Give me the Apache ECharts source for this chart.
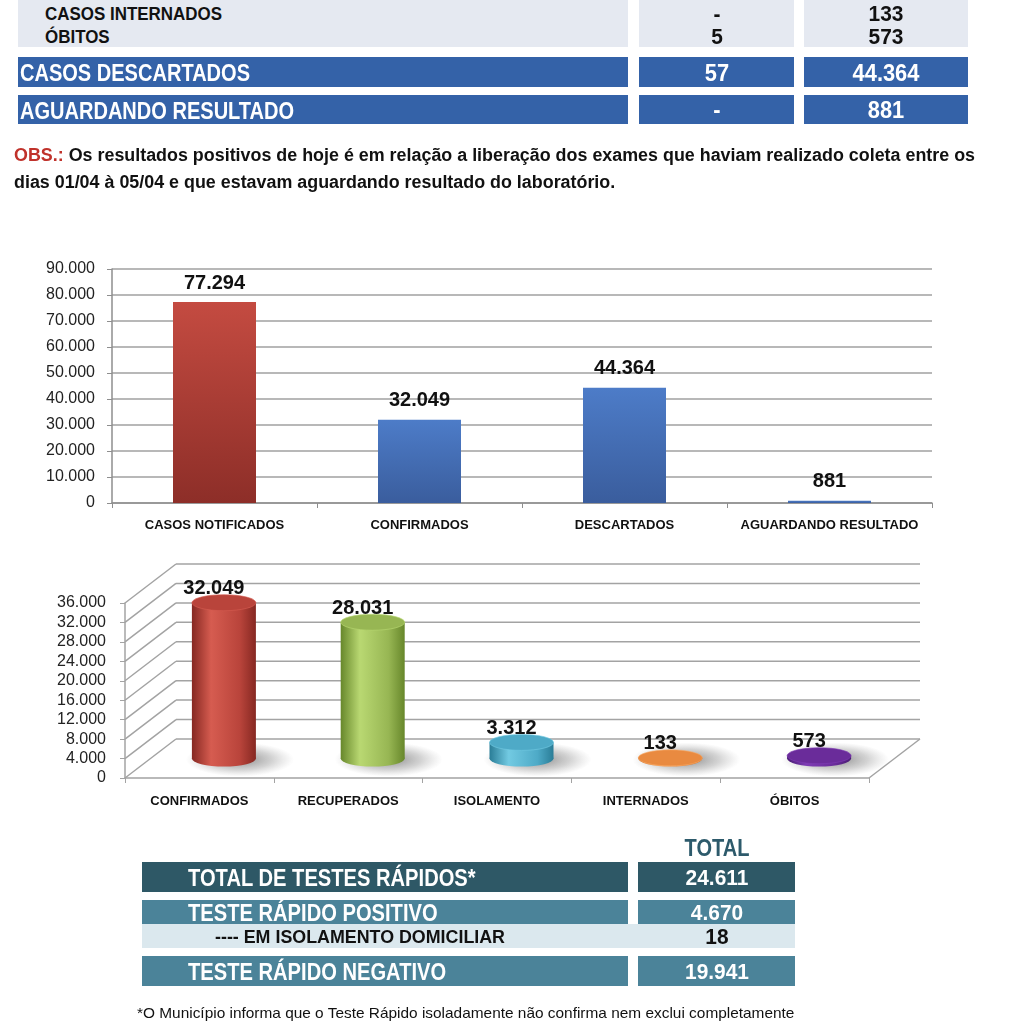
<!DOCTYPE html>
<html>
<head>
<meta charset="utf-8">
<script src="https://cdn.jsdelivr.net/npm/echarts@6/dist/echarts.min.js"></script>
<style>
  html, body { margin: 0; padding: 0; background: #fff; }
  #wrap { position: relative; width: 1024px; height: 1024px; overflow: hidden; }
  #chart { position: absolute; left: 0; top: 0; width: 1024px; height: 1024px; }
  #overlay { position: absolute; left: 0; top: 0; width: 1024px; height: 1024px; pointer-events: none; }
  .box { position: absolute; }
  .t { position: absolute; white-space: nowrap; line-height: 1; font-family: 'Liberation Sans', Arial, sans-serif; font-weight: bold; }
</style>
</head>
<body>
<div id="wrap">
  <div id="chart"></div>
  <div id="overlay"></div>
</div>
<script>
// ---------------- DATA ----------------
const topRowLabels = ['CASOS INTERNADOS', 'ÓBITOS'];
const topRowToday = ['-', '5'];
const topRowTotal = ['133', '573'];
const blueRowLabels = ['CASOS DESCARTADOS', 'AGUARDANDO RESULTADO'];
const blueRowToday = ['57', '-'];
const blueRowTotal = ['44.364', '881'];

const obsLabel = 'OBS.:';
const obsLines = [
  ' Os resultados positivos de hoje é em relação a liberação dos exames que haviam realizado coleta entre os',
  'dias 01/04 à 05/04 e que estavam aguardando resultado do laboratório.'
];

const chart1Categories = ['CASOS NOTIFICADOS', 'CONFIRMADOS', 'DESCARTADOS', 'AGUARDANDO RESULTADO'];
const chart1Values = [77294, 32049, 44364, 881];
const chart1AxisMin = 0, chart1AxisMax = 90000, chart1AxisStep = 10000;

const chart2Categories = ['CONFIRMADOS', 'RECUPERADOS', 'ISOLAMENTO', 'INTERNADOS', 'ÓBITOS'];
const chart2Values = [32049, 28031, 3312, 133, 573];
const chart2Ticks = [0, 4000, 8000, 12000, 16000, 20000, 24000, 28000, 32000, 36000];
const chart2AxisMin = 0, chart2AxisMax = 36000, chart2AxisStep = 4000;

const rapidHeader = 'TOTAL';
const rapidLabels = ['TOTAL DE TESTES RÁPIDOS*', 'TESTE RÁPIDO POSITIVO', '---- EM ISOLAMENTO DOMICILIAR', 'TESTE RÁPIDO NEGATIVO'];
const rapidValues = ['24.611', '4.670', '18', '19.941'];
const footnote = '*O Município informa  que o Teste Rápido isoladamente não confirma nem exclui completamente';

// ---------------- HTML TABLES ----------------
const ov = document.getElementById('overlay');
function box(x, y, w, h, color) {
  const d = document.createElement('div');
  d.className = 'box';
  Object.assign(d.style, { left: x + 'px', top: y + 'px', width: w + 'px', height: h + 'px', background: color });
  ov.appendChild(d);
}
function text(str, x, cy, size, color, sx) {
  const d = document.createElement('div');
  d.className = 't';
  d.textContent = str;
  d.style.fontSize = size + 'px';
  d.style.color = color;
  d.style.top = (cy - size / 2) + 'px';
  d.style.height = size + 'px';
  d.style.left = x + 'px';
  d.style.transformOrigin = '0 50%';
  if (sx) d.style.transform = 'scaleX(' + sx + ')';
  ov.appendChild(d);
  return d;
}
function ctext(str, cx, cy, size, color, sx) {
  const d = document.createElement('div');
  d.className = 't';
  d.textContent = str;
  d.style.fontSize = size + 'px';
  d.style.color = color;
  d.style.top = (cy - size / 2) + 'px';
  d.style.height = size + 'px';
  d.style.left = (cx - 200) + 'px';
  d.style.width = '400px';
  d.style.textAlign = 'center';
  if (sx) d.style.transform = 'scaleX(' + sx + ')';
  ov.appendChild(d);
  return d;
}
function measure(str, size, weight) {
  const c = document.createElement('canvas').getContext('2d');
  c.font = (weight || 'bold') + ' ' + size + "px 'Liberation Sans', Arial, sans-serif";
  return c.measureText(str).width;
}

const COL1 = [18, 628], COL2 = [639, 794], COL3 = [804, 968];
const lightBg = '#e5e9f1', blueBg = '#3462a8';
box(COL1[0], 0, COL1[1] - COL1[0], 47, lightBg);
box(COL2[0], 0, COL2[1] - COL2[0], 47, lightBg);
box(COL3[0], 0, COL3[1] - COL3[0], 47, lightBg);
const topY = [13, 36];
const sxTop = 177 / measure(topRowLabels[0], 19);
topRowLabels.forEach((l, i) => {
  text(l, 45, topY[i], 19, '#111', sxTop);
  ctext(topRowToday[i], (COL2[0] + COL2[1]) / 2, topY[i] + 1, 22, '#111', 0.95);
  ctext(topRowTotal[i], (COL3[0] + COL3[1]) / 2, topY[i] + 1, 22, '#111', 0.95);
});
const blueY = [[57, 87], [95, 124]];
const sxBlue = 230 / measure(blueRowLabels[0], 24);
blueRowLabels.forEach((l, i) => {
  const [y0, y1] = blueY[i];
  box(COL1[0], y0, COL1[1] - COL1[0], y1 - y0, blueBg);
  box(COL2[0], y0, COL2[1] - COL2[0], y1 - y0, blueBg);
  box(COL3[0], y0, COL3[1] - COL3[0], y1 - y0, blueBg);
  const cy = (y0 + y1) / 2 + 1;
  text(l, 20, cy, 24, '#fff', sxBlue);
  ctext(blueRowToday[i], (COL2[0] + COL2[1]) / 2, cy, 23, '#fff', 0.95);
  ctext(blueRowTotal[i], (COL3[0] + COL3[1]) / 2, cy, 23, '#fff', 0.95);
});
// OBS
(function () {
  const size = 18;
  const sx = 961 / measure(obsLabel + obsLines[0], size);
  const d = document.createElement('div');
  d.className = 't';
  d.style.left = '14px'; d.style.top = '142px'; d.style.fontSize = size + 'px';
  d.style.lineHeight = '27px'; d.style.color = '#111';
  d.style.transformOrigin = '0 0';
  d.style.transform = 'scaleX(' + sx + ')';
  d.innerHTML = '<span style="color:#c0322b">' + obsLabel + '</span>' + obsLines[0] + '<br>' + obsLines[1];
  ov.appendChild(d);
})();
// Rapid tests table
const RC1 = [142, 628], RC2 = [638, 795];
ctext(rapidHeader, (RC2[0] + RC2[1]) / 2, 848, 23, '#2d5a6b', 65 / measure(rapidHeader, 23));
const rapidRows = [
  { y: [862, 892], bg: '#2e5866', fg: '#fff', split: true, size: 24, x: 188 },
  { y: [900, 924], bg: '#4b8399', fg: '#fff', split: true, size: 24, x: 188 },
  { y: [924, 948], bg: '#dbe8ee', fg: '#111', split: false, size: 18, x: 215 },
  { y: [956, 986], bg: '#4b8399', fg: '#fff', split: true, size: 24, x: 188 }
];
const sxRapid = 288 / measure(rapidLabels[0], 24);
const sxIso = 290 / measure(rapidLabels[2], 18);
rapidRows.forEach((r, i) => {
  const [y0, y1] = r.y;
  if (r.split) {
    box(RC1[0], y0, RC1[1] - RC1[0], y1 - y0, r.bg);
    box(RC2[0], y0, RC2[1] - RC2[0], y1 - y0, r.bg);
  } else {
    box(RC1[0], y0, RC2[1] - RC1[0], y1 - y0, r.bg);
  }
  const cy = (y0 + y1) / 2 + 1;
  text(rapidLabels[i], r.x, cy, r.size, r.fg, r.split ? sxRapid : sxIso);
  ctext(rapidValues[i], (RC2[0] + RC2[1]) / 2, cy, 22, r.fg, 0.95);
});
(function () {
  const d = text(footnote, 137, 1012, 15, '#111', 662 / measure(footnote, 15, 'normal'));
  d.style.fontWeight = 'normal';
})();

// ---------------- ECHARTS ----------------
const fmt = v => String(v).replace(/\B(?=(\d{3})+(?!\d))/g, '.');
const SANS = "'Liberation Sans', Arial, sans-serif";
const grad = (a, b) => new echarts.graphic.LinearGradient(0, 0, 0, 1, [{ offset: 0, color: a }, { offset: 1, color: b }]);
const barColors1 = [grad('#c44b41', '#8d2e28'), grad('#4d7cc8', '#3a5d9d'), grad('#4d7cc8', '#3a5d9d'), grad('#4d7cc8', '#3a5d9d')];

const DX = 51, DY = 39; // depth offset of the pseudo-3D frame
const cylColors = [
  { dark: '#862822', light: '#d65c50', top: '#b9443b' },
  { dark: '#67872b', light: '#b9d872', top: '#97b653' },
  { dark: '#2a7d97', light: '#72cae2', top: '#4eaac7' },
  { dark: '#c46a28', light: '#f8a964', top: '#e98a40' },
  { dark: '#4a1d74', light: '#7e3cb4', top: '#6a2c9a' }
];
const gridColor = '#a3a3a3';

const chart = echarts.init(document.getElementById('chart'), null, { renderer: 'canvas' });
chart.setOption({
  animation: false,
  backgroundColor: 'transparent',
  grid: [
    { left: 112, top: 269, width: 820, height: 234, containLabel: false },
    { left: 125, top: 603, width: 744, height: 175, containLabel: false }
  ],
  xAxis: [
    {
      gridIndex: 0, type: 'category', data: chart1Categories,
      axisLine: { lineStyle: { color: '#8e8e8e', width: 1.5 } },
      axisTick: { show: true, interval: 0, length: 5, lineStyle: { color: '#8e8e8e' } },
      axisLabel: { interval: 0, margin: 16, fontFamily: SANS, fontWeight: 'bold', fontSize: 13, color: '#111' }
    },
    {
      gridIndex: 1, type: 'category', data: chart2Categories,
      axisLine: { lineStyle: { color: gridColor, width: 1.5 } },
      axisTick: { show: true, interval: 0, length: 5, lineStyle: { color: gridColor } },
      axisLabel: { interval: 0, margin: 17, fontFamily: SANS, fontWeight: 'bold', fontSize: 13, color: '#111' }
    }
  ],
  yAxis: [
    {
      gridIndex: 0, type: 'value', min: chart1AxisMin, max: chart1AxisMax, interval: chart1AxisStep,
      axisLine: { show: true, lineStyle: { color: '#8e8e8e', width: 1.5 } },
      axisTick: { show: true, length: 5, lineStyle: { color: '#8e8e8e' } },
      axisLabel: { margin: 17, fontFamily: SANS, fontSize: 16, color: '#222', formatter: fmt },
      splitLine: { show: true, lineStyle: { color: '#a0a0a0', width: 1.5 } }
    },
    {
      gridIndex: 1, type: 'value', min: chart2AxisMin, max: chart2AxisMax, interval: chart2AxisStep,
      axisLine: { show: true, lineStyle: { color: gridColor, width: 1.5 } },
      axisTick: { show: true, length: 5, lineStyle: { color: gridColor } },
      axisLabel: { margin: 19, fontFamily: SANS, fontSize: 16, color: '#222', formatter: fmt },
      splitLine: { show: false }
    }
  ],
  series: [
    {
      type: 'bar', xAxisIndex: 0, yAxisIndex: 0, barWidth: 83,
      data: chart1Values.map((v, i) => ({ value: v, itemStyle: { color: barColors1[i] } })),
      label: { show: true, position: 'top', distance: 9, fontFamily: SANS, fontWeight: 'bold', fontSize: 20, color: '#111', formatter: p => fmt(p.value) }
    },
    {
      // pseudo-3D frame: side wall and back wall lines at each tick of the front axis
      type: 'custom', xAxisIndex: 1, yAxisIndex: 1, z: 1, silent: true,
      data: chart2Ticks.map(v => [0, v]),
      renderItem: function (params, api) {
        const cs = params.coordSys;
        const v = api.value(1);
        const y = api.coord([0, v])[1];
        const x0 = cs.x;
        const st = { stroke: gridColor, lineWidth: 1.5 };
        const children = [
          { type: 'line', shape: { x1: x0, y1: y, x2: x0 + DX, y2: y - DY }, style: st },
          { type: 'line', shape: { x1: x0 + DX, y1: y - DY, x2: x0 + cs.width + DX, y2: y - DY }, style: st }
        ];
        if (v === chart2AxisMin) {
          children.push({ type: 'line', shape: { x1: x0 + cs.width, y1: y, x2: x0 + cs.width + DX, y2: y - DY }, style: st });
        }
        return { type: 'group', children };
      }
    },
    {
      type: 'custom', xAxisIndex: 1, yAxisIndex: 1, z: 3, silent: true,
      data: chart2Values.map((v, i) => [i, v]),
      renderItem: function (params, api) {
        const i = api.value(0), v = api.value(1);
        const base = api.coord([i, 0]);
        const top = api.coord([i, v]);
        const cx = base[0] + DX / 2 - 1;
        const by = base[1] - DY / 2;
        const ty = top[1] - DY / 2;
        const rx = 32, ry = 8;
        const c = cylColors[i];
        const body = new echarts.graphic.LinearGradient(0, 0, 1, 0, [
          { offset: 0, color: c.dark }, { offset: 0.3, color: c.light }, { offset: 0.75, color: c.top }, { offset: 1, color: c.dark }
        ]);
        const shadow = new echarts.graphic.RadialGradient(0.5, 0.5, 0.5, [
          { offset: 0, color: 'rgba(40,40,40,0.55)' }, { offset: 0.6, color: 'rgba(80,80,80,0.25)' }, { offset: 1, color: 'rgba(120,120,120,0)' }
        ]);
        return {
          type: 'group',
          children: [
            { type: 'circle', shape: { cx: 0, cy: 0, r: rx + 22 }, x: cx + 16, y: by + 1, scaleY: (ry + 9) / (rx + 22), style: { fill: shadow } },
            { type: 'circle', shape: { cx: 0, cy: 0, r: rx }, x: cx, y: by, scaleY: ry / rx, style: { fill: body } },
            { type: 'rect', shape: { x: cx - rx, y: ty, width: rx * 2, height: Math.max(0, by - ty) }, style: { fill: body } },
            { type: 'circle', shape: { cx: 0, cy: 0, r: rx }, x: cx, y: ty, scaleY: ry / rx, style: { fill: c.top, stroke: c.light, lineWidth: 1 } },
            { type: 'text', x: cx - 10, y: ty - 14, style: { text: fmt(v), fill: '#111', font: 'bold 20px ' + SANS, align: 'center', verticalAlign: 'middle' } }
          ]
        };
      }
    }
  ]
});
</script>
</body>
</html>
